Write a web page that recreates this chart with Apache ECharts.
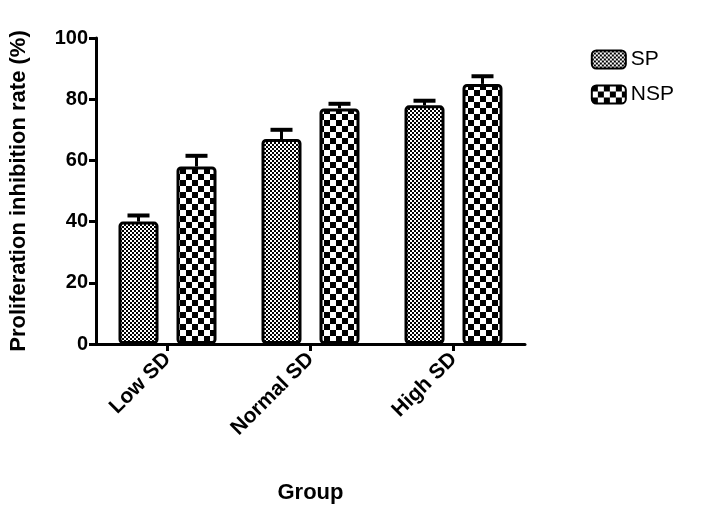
<!DOCTYPE html><html><head><meta charset="utf-8"><script src="https://cdn.jsdelivr.net/npm/echarts@6/dist/echarts.min.js"></script></head><body style="margin:0;background:#fff"><div id="c" style="width:701px;height:509px"></div><script>
var categories=['Low SD','Normal SD','High SD'];
var spValues=[40,67,78];
var spErrors=[2,3,1.5];
var nspValues=[58,77,85];
var nspErrors=[3.5,1.5,2.5];
function pat(s){var c=document.createElement('canvas');c.width=c.height=s*2;var g=c.getContext('2d');g.fillStyle='#fff';g.fillRect(0,0,s*2,s*2);g.fillStyle='#000';g.fillRect(0,0,s,s);g.fillRect(s,s,s,s);return c;}
var fine={image:pat(2),repeat:'repeat'},coarse={image:pat(6),repeat:'repeat'};
function errSeries(vals,errs,off){return {type:'custom',data:vals.map(function(v,i){return [i,v,errs[i]];}),z:1,
renderItem:function(p,api){var x=api.coord([api.value(0),0])[0]+off;var top=api.coord([0,api.value(1)+api.value(2)])[1];var b=api.coord([0,api.value(1)])[1];
return {type:'group',children:[{type:'line',shape:{x1:x,y1:b,x2:x,y2:top},style:{stroke:'#000',lineWidth:3}},{type:'line',shape:{x1:x-11,y1:top,x2:x+11,y2:top},style:{stroke:'#000',lineWidth:4}}]};}};}
var ch=echarts.init(document.getElementById('c'));
var F='Arial, Liberation Sans, sans-serif';
ch.setOption({animation:false,
grid:{left:90,top:38,width:435,height:315},
legend:{right:22,top:44,orient:'vertical',itemWidth:34,itemHeight:18,itemGap:14,textStyle:{fontSize:21,fontFamily:F,color:'#000'},data:['SP','NSP']},
xAxis:{type:'category',data:categories,axisLine:{lineStyle:{color:'#000',width:3}},axisTick:{show:true,alignWithLabel:true,length:7,lineStyle:{width:3}},
axisLabel:{rotate:45,fontSize:21,fontWeight:'bold',fontFamily:F,color:'#000',margin:12},name:'Group',nameLocation:'middle',nameGap:138,nameTextStyle:{fontSize:22,fontWeight:'bold',fontFamily:F,color:'#000'}},
yAxis:{type:'value',min:0,max:100,interval:20,splitLine:{show:false},axisLine:{show:true,lineStyle:{color:'#000',width:3}},axisTick:{show:true,length:7,lineStyle:{width:3}},
axisLabel:{fontSize:20,fontWeight:'bold',fontFamily:F,color:'#000'},name:'Proliferation inhibition rate (%)',nameLocation:'middle',nameGap:66,nameTextStyle:{fontSize:22,fontWeight:'bold',fontFamily:F,color:'#000'}},
series:[{name:'SP',type:'bar',data:spValues,barWidth:40,barGap:'45%',z:2,itemStyle:{color:fine,borderColor:'#000',borderWidth:3,borderRadius:3}},
{name:'NSP',type:'bar',data:nspValues,barWidth:40,z:2,itemStyle:{color:coarse,borderColor:'#000',borderWidth:3,borderRadius:3}},
errSeries(spValues,spErrors,-29),errSeries(nspValues,nspErrors,29)]});
</script></body></html>
